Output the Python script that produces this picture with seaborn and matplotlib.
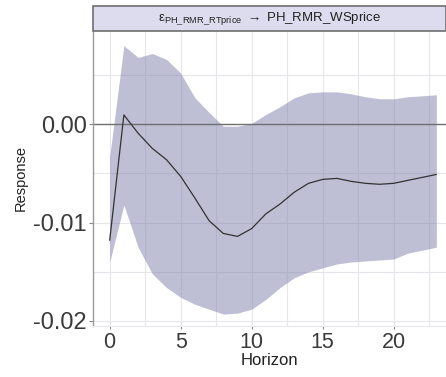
import matplotlib
matplotlib.use("Agg")
import matplotlib.pyplot as plt
from matplotlib.patches import Rectangle
from matplotlib.ticker import MultipleLocator
import pandas as pd
import seaborn as sns

# impulse response
horizon = list(range(24))
response = [-0.0118, 0.00095, -0.0009, -0.00245, -0.0036, -0.0053, -0.0075, -0.0098,
            -0.0111, -0.0114, -0.0106, -0.0091, -0.0081, -0.0069, -0.0060, -0.0056,
            -0.0055, -0.0058, -0.0060, -0.0061, -0.0060, -0.0057, -0.0054, -0.0051]
upper = [-0.0033, 0.0080, 0.0068, 0.0072, 0.0066, 0.0052, 0.0027, 0.0012,
         -0.0002, -0.0002, 0.0001, 0.0010, 0.0018, 0.0027, 0.0032, 0.0033,
         0.0033, 0.0031, 0.0028, 0.0026, 0.0026, 0.0028, 0.0029, 0.0030]
lower = [-0.0140, -0.0082, -0.0125, -0.0152, -0.0166, -0.0176, -0.0183, -0.0188,
         -0.0193, -0.0192, -0.0188, -0.0178, -0.0166, -0.0156, -0.0150, -0.0146,
         -0.0142, -0.0140, -0.0139, -0.0138, -0.0137, -0.0131, -0.0128, -0.0125]
y_ticks = [-0.02, -0.01, 0.00]
x_ticks = [0, 5, 10, 15, 20]
title_text = r"$\mathrm{ε}_{\mathrm{PH\_RMR\_RTprice}}$ $\rightarrow$ PH_RMR_WSprice"

df = pd.DataFrame({"Horizon": horizon, "Response": response, "upper": upper, "lower": lower})

sns.set_theme(style="white")
plt.rcParams["font.family"] = ["Liberation Sans", "DejaVu Sans"]
plt.rcParams["mathtext.fontset"] = "custom"
plt.rcParams["mathtext.rm"] = "Liberation Sans"
plt.rcParams["mathtext.it"] = "Liberation Sans:italic"

text_col = "#3a3a3a"
fig = plt.figure(figsize=(4.46, 3.77), dpi=100)
ax = fig.add_axes([0.2074, 0.1353, 0.7926, 0.7825])

# grid (major + minor) like ggplot theme_minimal
ax.xaxis.set_minor_locator(MultipleLocator(2.5))
ax.yaxis.set_minor_locator(MultipleLocator(0.005))
ax.grid(which="both", color="#e6e6ec", linewidth=0.8, zorder=0)

ax.fill_between(df["Horizon"], df["lower"], df["upper"], color="#7f7fad", alpha=0.5,
                linewidth=0, zorder=1)
ax.axhline(0, color="#707070", linewidth=1.0, zorder=2)
sns.lineplot(data=df, x="Horizon", y="Response", ax=ax, color="#333333", linewidth=0.9, zorder=3)

ax.set_xlim(-1.21, 23.68)
ax.set_ylim(-0.02051, 0.00949)
ax.set_xticks(x_ticks)
ax.set_yticks(y_ticks)
ax.set_yticklabels([f"{t:.2f}" for t in y_ticks])
ax.tick_params(axis="y", labelsize=17, colors=text_col, length=3, width=0.8, pad=1,
               which="major", left=True, color="#888888")
ax.tick_params(axis="x", labelsize=15.5, colors=text_col, length=2, width=0.8, pad=2,
               which="major", bottom=True, color="#888888")
ax.tick_params(which="minor", length=0)
ax.set_xlabel("Horizon", fontsize=12, color="#222222", labelpad=0)
ax.set_ylabel("Response", fontsize=10.5, color="#222222", labelpad=4)

for side in ["top", "right"]:
    ax.spines[side].set_visible(False)
ax.spines["left"].set_color("#9a9a9a")
ax.spines["left"].set_linewidth(1.0)
ax.spines["bottom"].set_color("#e6e6ec")
ax.spines["bottom"].set_linewidth(0.8)

# facet strip on top of the panel
strip = fig.add_axes([0.2074, 0.9178, 0.7926, 0.0663])
strip.set_xlim(0, 1)
strip.set_ylim(0, 1)
strip.axis("off")
strip.add_patch(Rectangle((0, 0), 1, 1, facecolor="#dcdcee", edgecolor="#6e6e6e",
                          linewidth=1.2, transform=strip.transAxes, clip_on=False))
strip.text(0.5, 0.5, title_text, ha="center", va="center", fontsize=9.5, color="#222222")

fig.savefig("out.png", dpi=100)
